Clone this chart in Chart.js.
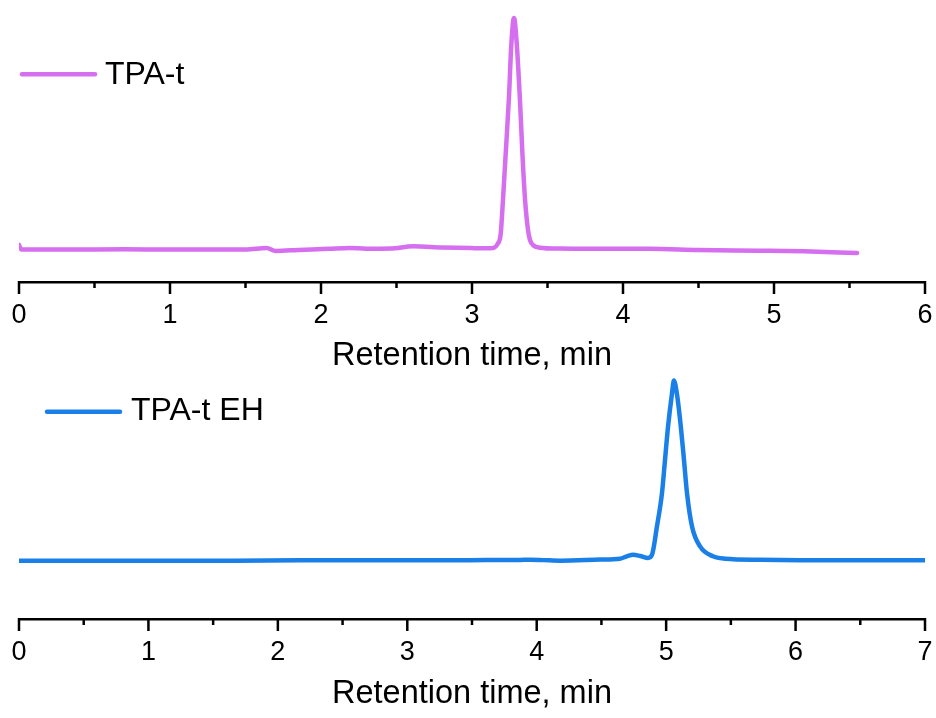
<!DOCTYPE html>
<html>
<head>
<meta charset="utf-8">
<script src="https://cdn.jsdelivr.net/npm/chart.js@4.4.0/dist/chart.umd.min.js"></script>
<style>
  html, body { margin: 0; padding: 0; background: #ffffff; }
  #wrap { position: relative; width: 936px; height: 718px; overflow: hidden; background: #ffffff; }
  canvas { position: absolute; left: 0; }
  #c1 { top: 0px; }
  #c2 { top: 355px; }
</style>
</head>
<body>
<div id="wrap">
  <canvas id="c1" width="936" height="400"></canvas>
  <canvas id="c2" width="936" height="363"></canvas>
</div>
<script>
// ---- Data (retention time in min, relative signal) ----
const topLabel = "TPA-t";
const topTime = [0, 0.015, 0.3, 0.7, 1.0, 1.5, 1.64, 1.70, 1.85, 2.05, 2.19, 2.30, 2.46, 2.61, 2.80, 3.00, 3.12, 3.15, 3.17, 3.19, 3.205, 3.22, 3.245, 3.26, 3.278, 3.295, 3.318, 3.335, 3.351, 3.37, 3.384, 3.41, 3.45, 3.58, 3.9, 4.18, 4.5, 4.9, 5.2, 5.55];
const topSignal = [2.2, 0.2, 0.2, 0.3, 0.2, 0.2, 0.9, -0.4, 0.0, 0.5, 0.9, 0.5, 0.6, 1.6, 1.1, 0.8, 0.7, 1.1, 2.6, 6.9, 21.5, 38, 66, 88, 100, 90, 64, 40, 22, 9, 4.3, 1.8, 1.0, 0.6, 0.5, 0.5, 0.0, -0.3, -0.6, -1.3];
const topTicks = [0, 1, 2, 3, 4, 5, 6];

const bottomLabel = "TPA-t EH";
const bottomTime = [0, 1.67, 2.17, 2.94, 3.48, 3.87, 3.95, 4.05, 4.18, 4.49, 4.643, 4.70, 4.744, 4.80, 4.860, 4.891, 4.929, 4.968, 4.991, 5.014, 5.045, 5.060, 5.083, 5.114, 5.138, 5.161, 5.200, 5.262, 5.362, 5.455, 5.725, 6.034, 7.0];
const bottomSignal = [0, 0, 0.3, 0.2, 0.3, 0.4, 0.5, 0.3, 0.0, 0.6, 1.1, 2.5, 3.3, 2.6, 1.5, 3.3, 19.0, 37.6, 55.8, 74.0, 92.8, 100, 92.8, 74.0, 55.8, 37.6, 19.0, 7.9, 2.4, 1.1, 0.5, 0.3, 0.3];
const bottomTicks = [0, 1, 2, 3, 4, 5, 6, 7];

const xTitle = "Retention time, min";

Chart.defaults.font.family = "'Liberation Sans', Arial, sans-serif";
Chart.defaults.color = "#000000";

const tickMarks = {
  id: 'tickMarks',
  afterDraw(chart) {
    const s = chart.scales.x;
    const ctx = chart.ctx;
    const y0 = s.top;
    ctx.save();
    ctx.strokeStyle = '#000';
    ctx.lineWidth = 2.5;
    ctx.lineCap = 'butt';
    for (let v = s.min; v <= s.max + 1e-9; v += 0.5) {
      const px = s.getPixelForValue(v);
      const major = Math.abs(v - Math.round(v)) < 1e-6;
      ctx.beginPath();
      ctx.moveTo(px, y0 - 1);
      ctx.lineTo(px, y0 + (major ? 12 : 6));
      ctx.stroke();
    }
    ctx.restore();
  }
};

const legendLine = {
  id: 'legendLine',
  afterDraw(chart, args, opts) {
    const ctx = chart.ctx;
    ctx.save();
    ctx.strokeStyle = opts.color;
    ctx.lineWidth = 4.5;
    ctx.lineCap = 'round';
    ctx.beginPath();
    ctx.moveTo(opts.x1, opts.y);
    ctx.lineTo(opts.x2, opts.y);
    ctx.stroke();
    ctx.fillStyle = '#000';
    ctx.font = "32px 'Liberation Sans', Arial, sans-serif";
    ctx.textBaseline = 'middle';
    ctx.textAlign = 'left';
    ctx.fillText(opts.text, opts.tx, opts.ty);
    ctx.restore();
  }
};

function makeChart(id, time, signal, ticks, label, color, cfg) {
  const pts = time.map((t, i) => ({ x: t, y: signal[i] }));
  return new Chart(document.getElementById(id), {
    type: 'line',
    data: {
      datasets: [{
        label: label,
        data: pts,
        borderColor: color,
        borderWidth: 4.5,
        pointRadius: 0,
        fill: false,
        cubicInterpolationMode: 'monotone',
        borderJoinStyle: 'round',
        borderCapStyle: 'round'
      }]
    },
    options: {
      responsive: false,
      animation: false,
      devicePixelRatio: 1,
      layout: { padding: { left: 19, right: 11, top: cfg.padTop, bottom: 0 } },
      plugins: {
        legend: { display: false },
        tooltip: { enabled: false },
        legendLine: { color: color, x1: cfg.lx1, x2: cfg.lx2, y: cfg.ly, tx: cfg.tx, ty: cfg.ty, text: label }
      },
      scales: {
        x: {
          type: 'linear',
          min: ticks[0],
          max: ticks[ticks.length - 1],
          afterFit: (s) => { s.height = cfg.xHeight; },
          afterBuildTicks: (s) => { s.ticks = ticks.map(v => ({ value: v })); },
          grid: {
            display: true,
            drawOnChartArea: false,
            drawTicks: true,
            tickLength: 17,
            tickColor: 'rgba(0,0,0,0)',
            color: 'rgba(0,0,0,0)'
          },
          border: { display: true, color: '#000', width: 2.5 },
          ticks: {
            autoSkip: false,
            maxRotation: 0,
            padding: 0,
            font: { size: 27 },
            color: '#000',
            callback: (v) => String(v)
          },
          title: {
            display: true,
            text: xTitle,
            font: { size: 32.5 },
            color: '#000',
            padding: { top: 0, bottom: cfg.titlePad }
          }
        },
        y: {
          display: false,
          min: cfg.ymin,
          max: cfg.ymax
        }
      }
    },
    plugins: [tickMarks, legendLine]
  });
}

makeChart('c1', topTime, topSignal, topTicks, topLabel, '#D66EF0', {
  padTop: 10, xHeight: 118, titlePad: 24, ymin: -13.8, ymax: 103.4,
  lx1: 22, lx2: 95, ly: 74.3, tx: 105, ty: 75
});

makeChart('c2', bottomTime, bottomSignal, bottomTicks, bottomLabel, '#1A80E8', {
  padTop: 15, xHeight: 99, titlePad: 4, ymin: -32.4, ymax: 105.9,
  lx1: 47, lx2: 120, ly: 56.7, tx: 131, ty: 56
});
</script>
</body>
</html>
